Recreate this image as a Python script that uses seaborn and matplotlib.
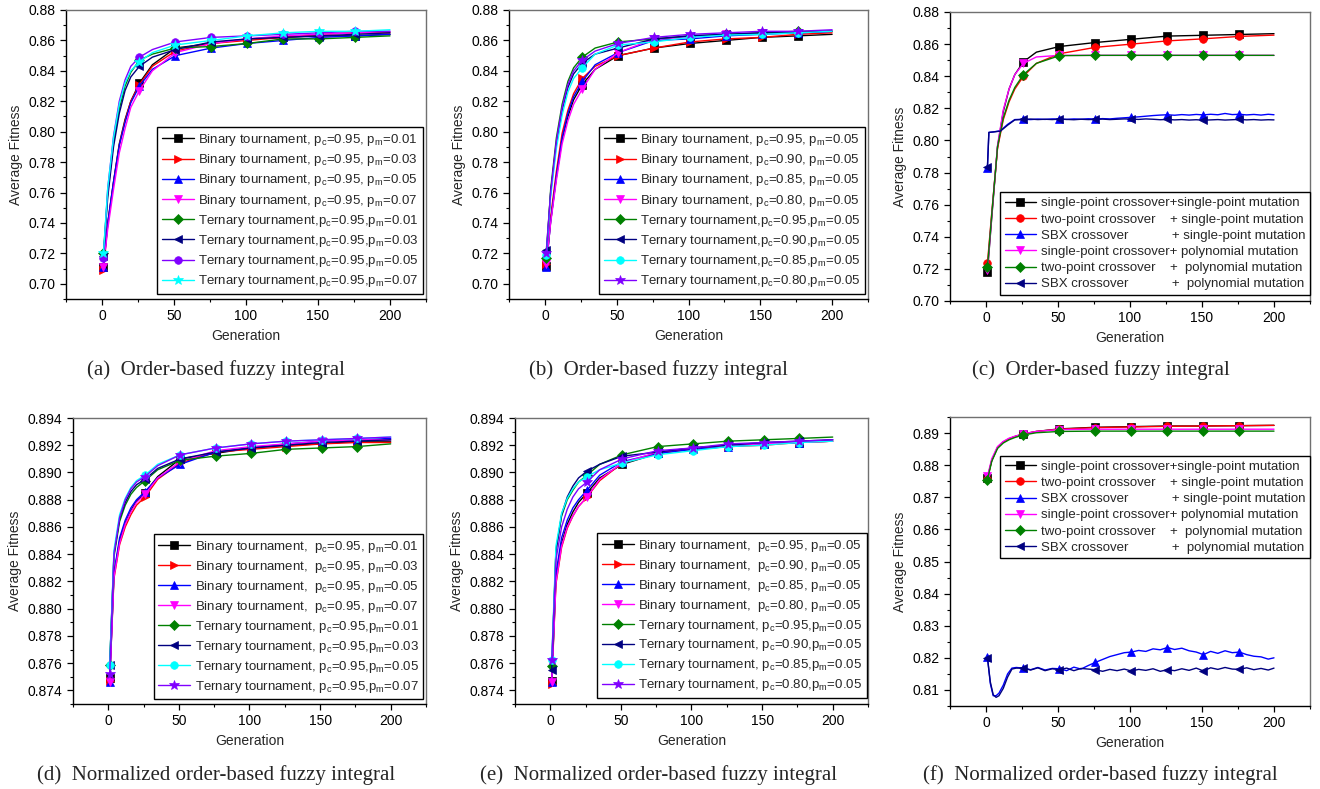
import matplotlib
matplotlib.use("Agg")
import matplotlib.pyplot as plt
from matplotlib.ticker import MultipleLocator, FormatStrFormatter
import seaborn as sns

# ---------------------------------------------------------------- data
# generations at which the smooth runs are sampled
GEN = [1, 4, 8, 12, 16, 20, 26, 35, 51, 76, 101, 126, 151, 176, 200]
# generations carrying a marker symbol
MARK_GENS = [1, 26, 51, 76, 101, 126, 151, 176]

# (a) order-based fuzzy integral, p_c fixed, p_m varied
a_bin_001 = [0.711, 0.740, 0.767, 0.792, 0.808, 0.820, 0.832, 0.844, 0.855, 0.858, 0.861, 0.862, 0.863, 0.863, 0.864]
a_bin_003 = [0.709, 0.739, 0.766, 0.791, 0.807, 0.820, 0.831, 0.843, 0.853, 0.858, 0.860, 0.862, 0.864, 0.865, 0.865]
a_bin_005 = [0.711, 0.740, 0.767, 0.791, 0.806, 0.819, 0.830, 0.841, 0.850, 0.855, 0.858, 0.860, 0.862, 0.863, 0.864]
a_bin_007 = [0.711, 0.736, 0.762, 0.786, 0.802, 0.816, 0.827, 0.840, 0.852, 0.858, 0.861, 0.863, 0.864, 0.865, 0.866]
a_ter_001 = [0.720, 0.760, 0.793, 0.815, 0.830, 0.839, 0.847, 0.851, 0.855, 0.856, 0.858, 0.861, 0.861, 0.862, 0.863]
a_ter_003 = [0.718, 0.757, 0.790, 0.812, 0.827, 0.836, 0.843, 0.849, 0.854, 0.859, 0.861, 0.862, 0.863, 0.864, 0.865]
a_ter_005 = [0.717, 0.763, 0.797, 0.820, 0.834, 0.843, 0.849, 0.854, 0.859, 0.862, 0.863, 0.864, 0.865, 0.866, 0.866]
a_ter_007 = [0.720, 0.763, 0.796, 0.818, 0.832, 0.840, 0.846, 0.852, 0.857, 0.860, 0.863, 0.865, 0.866, 0.866, 0.867]

# (b) order-based fuzzy integral, p_m fixed, p_c varied
b_bin_095 = [0.712, 0.741, 0.770, 0.795, 0.810, 0.821, 0.831, 0.841, 0.850, 0.855, 0.858, 0.860, 0.862, 0.863, 0.864]
b_bin_090 = [0.713, 0.744, 0.774, 0.799, 0.814, 0.825, 0.835, 0.843, 0.850, 0.855, 0.859, 0.861, 0.862, 0.864, 0.865]
b_bin_085 = [0.711, 0.741, 0.771, 0.796, 0.812, 0.823, 0.833, 0.844, 0.852, 0.860, 0.861, 0.863, 0.864, 0.865, 0.866]
b_bin_080 = [0.713, 0.740, 0.768, 0.792, 0.807, 0.818, 0.828, 0.841, 0.852, 0.861, 0.862, 0.864, 0.865, 0.865, 0.866]
b_ter_095 = [0.717, 0.762, 0.796, 0.818, 0.833, 0.842, 0.849, 0.855, 0.859, 0.861, 0.863, 0.864, 0.865, 0.866, 0.866]
b_ter_090 = [0.722, 0.760, 0.792, 0.814, 0.829, 0.838, 0.845, 0.851, 0.855, 0.861, 0.863, 0.864, 0.865, 0.865, 0.866]
b_ter_085 = [0.719, 0.757, 0.789, 0.811, 0.826, 0.835, 0.842, 0.851, 0.857, 0.859, 0.862, 0.8635, 0.864, 0.865, 0.866]
b_ter_080 = [0.720, 0.760, 0.794, 0.816, 0.831, 0.840, 0.847, 0.853, 0.858, 0.862, 0.864, 0.865, 0.866, 0.866, 0.867]

# (c) order-based fuzzy integral, crossover / mutation operators
c_sp_sp = [0.718, 0.752, 0.796, 0.818, 0.832, 0.841, 0.849, 0.855, 0.8585, 0.861, 0.863, 0.865, 0.8655, 0.866, 0.8665]
c_tp_sp = [0.7235, 0.755, 0.795, 0.813, 0.824, 0.832, 0.840, 0.848, 0.854, 0.858, 0.860, 0.862, 0.8633, 0.8648, 0.8656]
c_sp_poly = [0.719, 0.753, 0.797, 0.819, 0.832, 0.841, 0.848, 0.852, 0.853, 0.853, 0.853, 0.853, 0.853, 0.853, 0.853]
c_tp_poly = [0.721, 0.754, 0.796, 0.814, 0.825, 0.833, 0.841, 0.848, 0.8528, 0.853, 0.853, 0.853, 0.853, 0.853, 0.853]
C_SBX_GEN = [1, 2, 5, 10, 15, 20] + list(range(26, 197, 5)) + [200]
c_sbx_sp = [0.7830, 0.8050, 0.8053, 0.8060, 0.8100, 0.8130,
            0.8132, 0.8130, 0.8133, 0.8131, 0.8134, 0.8133, 0.8131, 0.8134, 0.8132, 0.8135,
            0.8133, 0.8136, 0.8134, 0.8138, 0.8141, 0.8144, 0.8147, 0.8151, 0.8155, 0.8158,
            0.8160, 0.8157, 0.8161, 0.8158, 0.8162, 0.8159, 0.8163, 0.8160, 0.8168, 0.8161,
            0.8163, 0.8159, 0.8162, 0.8158, 0.8163, 0.8160]
c_sbx_poly = [0.7835, 0.8050, 0.8053, 0.8058, 0.8095, 0.8128,
              0.8131, 0.8133, 0.8130, 0.8132, 0.8130, 0.8133, 0.8131, 0.8129, 0.8132, 0.8130,
              0.8131, 0.8133, 0.8130, 0.8132, 0.8134, 0.8133, 0.8131, 0.8134, 0.8132, 0.8129,
              0.8131, 0.8128, 0.8130, 0.8127, 0.8129, 0.8126, 0.8128, 0.8130, 0.8127, 0.8129,
              0.8131, 0.8128, 0.8130, 0.8127, 0.8129, 0.8128]

# (d) normalized order-based fuzzy integral, p_c fixed, p_m varied
d_bin_001 = [0.8749, 0.8825, 0.8850, 0.8863, 0.8872, 0.8879, 0.8885, 0.8897, 0.8910, 0.8914, 0.8918, 0.8920, 0.8921, 0.8923, 0.8923]
d_bin_003 = [0.8747, 0.8822, 0.8847, 0.8860, 0.8869, 0.8876, 0.8882, 0.8895, 0.8907, 0.8915, 0.8917, 0.8919, 0.8921, 0.8922, 0.8922]
d_bin_005 = [0.8746, 0.8826, 0.8852, 0.8865, 0.8874, 0.8880, 0.8886, 0.8896, 0.8906, 0.8915, 0.8918, 0.8921, 0.8923, 0.8924, 0.8925]
d_bin_007 = [0.8746, 0.8823, 0.8848, 0.8862, 0.8871, 0.8878, 0.8884, 0.8896, 0.8908, 0.8916, 0.8919, 0.8921, 0.8923, 0.8924, 0.8924]
d_ter_001 = [0.8759, 0.8838, 0.8864, 0.8876, 0.8884, 0.8889, 0.8894, 0.8902, 0.8909, 0.8912, 0.8914, 0.8917, 0.8918, 0.8919, 0.8921]
d_ter_003 = [0.8759, 0.8840, 0.8866, 0.8878, 0.8886, 0.8891, 0.8895, 0.8903, 0.8910, 0.8915, 0.8918, 0.8920, 0.8922, 0.8923, 0.8924]
d_ter_005 = [0.8759, 0.8843, 0.8869, 0.8881, 0.8889, 0.8894, 0.8898, 0.8906, 0.8913, 0.8918, 0.8921, 0.8923, 0.8924, 0.8925, 0.8926]
d_ter_007 = [0.8752, 0.8840, 0.8867, 0.8880, 0.8888, 0.8893, 0.8897, 0.8905, 0.8913, 0.8918, 0.8921, 0.8923, 0.8924, 0.8925, 0.8926]

# (e) normalized order-based fuzzy integral, p_m fixed, p_c varied
e_bin_095 = [0.8747, 0.8822, 0.8848, 0.8862, 0.8871, 0.8878, 0.8885, 0.8896, 0.8906, 0.8914, 0.8918, 0.8920, 0.8921, 0.8922, 0.8923]
e_bin_090 = [0.8745, 0.8818, 0.8845, 0.8859, 0.8868, 0.8875, 0.8882, 0.8894, 0.8907, 0.8914, 0.8917, 0.8919, 0.8920, 0.8922, 0.8923]
e_bin_085 = [0.8746, 0.8826, 0.8852, 0.8865, 0.8874, 0.8880, 0.8887, 0.8898, 0.8908, 0.8914, 0.8917, 0.8919, 0.8921, 0.8922, 0.8924]
e_bin_080 = [0.8746, 0.8819, 0.8846, 0.8860, 0.8868, 0.8875, 0.8882, 0.8895, 0.8907, 0.8915, 0.8918, 0.8920, 0.8921, 0.8922, 0.8923]
e_ter_095 = [0.8758, 0.8843, 0.8868, 0.8880, 0.8887, 0.8893, 0.8898, 0.8906, 0.8913, 0.8919, 0.8921, 0.8923, 0.8924, 0.8925, 0.8926]
e_ter_090 = [0.8755, 0.8842, 0.8869, 0.8882, 0.8890, 0.8896, 0.8901, 0.8906, 0.8912, 0.8915, 0.8918, 0.8920, 0.8922, 0.8923, 0.8924]
e_ter_085 = [0.8762, 0.8846, 0.8870, 0.8881, 0.8888, 0.8893, 0.8897, 0.8902, 0.8907, 0.8913, 0.8916, 0.8919, 0.8920, 0.8922, 0.8923]
e_ter_080 = [0.8762, 0.8836, 0.8860, 0.8873, 0.8882, 0.8888, 0.8893, 0.8902, 0.8910, 0.8916, 0.8918, 0.8921, 0.8922, 0.8923, 0.8924]

# (f) normalized order-based fuzzy integral, crossover / mutation operators
f_sp_sp = [0.8760, 0.8815, 0.8855, 0.8872, 0.8882, 0.8889, 0.8897, 0.8905, 0.8913, 0.8918, 0.8920, 0.8922, 0.8922, 0.8923, 0.8924]
f_tp_sp = [0.8758, 0.8815, 0.8855, 0.8872, 0.8882, 0.8889, 0.8897, 0.8905, 0.8912, 0.8917, 0.8919, 0.8921, 0.8922, 0.8923, 0.8924]
f_sp_poly = [0.8765, 0.8820, 0.8858, 0.8874, 0.8884, 0.8890, 0.8898, 0.8905, 0.8911, 0.8912, 0.8912, 0.8912, 0.8912, 0.8912, 0.8912]
f_tp_poly = [0.8755, 0.8812, 0.8852, 0.8869, 0.8879, 0.8886, 0.8894, 0.8901, 0.8905, 0.8906, 0.8906, 0.8906, 0.8906, 0.8906, 0.8906]
F_SBX_GEN = [1, 3, 5, 7, 9, 12, 15, 18, 21] + list(range(26, 197, 5)) + [200]
f_sbx_sp = [0.8202, 0.8120, 0.8082, 0.8082, 0.8090, 0.8115, 0.8150, 0.8168, 0.8170,
            0.8168, 0.8163, 0.8170, 0.8162, 0.8167, 0.8166, 0.8160, 0.8171, 0.8165, 0.8176,
            0.8186, 0.8195, 0.8204, 0.8210, 0.8216, 0.8218, 0.8223, 0.8220, 0.8228, 0.8225,
            0.8232, 0.8226, 0.8230, 0.8222, 0.8218, 0.8210, 0.8220, 0.8214, 0.8222, 0.8216,
            0.8218, 0.8210, 0.8205, 0.8203, 0.8196, 0.8200]
f_sbx_poly = [0.8200, 0.8125, 0.8085, 0.8077, 0.8082, 0.8105, 0.8140, 0.8165, 0.8168,
              0.8168, 0.8162, 0.8169, 0.8160, 0.8166, 0.8163, 0.8168, 0.8160, 0.8167, 0.8165,
              0.8163, 0.8158, 0.8164, 0.8160, 0.8165, 0.8159, 0.8164, 0.8161, 0.8166, 0.8158,
              0.8163, 0.8160, 0.8166, 0.8161, 0.8168, 0.8159, 0.8169, 0.8164, 0.8170, 0.8165,
              0.8164, 0.8169, 0.8163, 0.8167, 0.8162, 0.8168]

# legend labels
LAB_A = [r"Binary tournament, p$_\mathrm{c}$=0.95, p$_\mathrm{m}$=0.01",
         r"Binary tournament, p$_\mathrm{c}$=0.95, p$_\mathrm{m}$=0.03",
         r"Binary tournament, p$_\mathrm{c}$=0.95, p$_\mathrm{m}$=0.05",
         r"Binary tournament, p$_\mathrm{c}$=0.95, p$_\mathrm{m}$=0.07",
         r"Ternary tournament,p$_\mathrm{c}$=0.95,p$_\mathrm{m}$=0.01",
         r"Ternary tournament,p$_\mathrm{c}$=0.95,p$_\mathrm{m}$=0.03",
         r"Ternary tournament,p$_\mathrm{c}$=0.95,p$_\mathrm{m}$=0.05",
         r"Ternary tournament,p$_\mathrm{c}$=0.95,p$_\mathrm{m}$=0.07"]
LAB_B = [r"Binary tournament, p$_\mathrm{c}$=0.95, p$_\mathrm{m}$=0.05",
         r"Binary tournament, p$_\mathrm{c}$=0.90, p$_\mathrm{m}$=0.05",
         r"Binary tournament, p$_\mathrm{c}$=0.85, p$_\mathrm{m}$=0.05",
         r"Binary tournament, p$_\mathrm{c}$=0.80, p$_\mathrm{m}$=0.05",
         r"Ternary tournament,p$_\mathrm{c}$=0.95,p$_\mathrm{m}$=0.05",
         r"Ternary tournament,p$_\mathrm{c}$=0.90,p$_\mathrm{m}$=0.05",
         r"Ternary tournament,p$_\mathrm{c}$=0.85,p$_\mathrm{m}$=0.05",
         r"Ternary tournament,p$_\mathrm{c}$=0.80,p$_\mathrm{m}$=0.05"]
LAB_D = [r"Binary tournament,  p$_\mathrm{c}$=0.95, p$_\mathrm{m}$=0.01",
         r"Binary tournament,  p$_\mathrm{c}$=0.95, p$_\mathrm{m}$=0.03",
         r"Binary tournament,  p$_\mathrm{c}$=0.95, p$_\mathrm{m}$=0.05",
         r"Binary tournament,  p$_\mathrm{c}$=0.95, p$_\mathrm{m}$=0.07",
         r"Ternary tournament, p$_\mathrm{c}$=0.95,p$_\mathrm{m}$=0.01",
         r"Ternary tournament, p$_\mathrm{c}$=0.95,p$_\mathrm{m}$=0.03",
         r"Ternary tournament, p$_\mathrm{c}$=0.95,p$_\mathrm{m}$=0.05",
         r"Ternary tournament, p$_\mathrm{c}$=0.95,p$_\mathrm{m}$=0.07"]
LAB_E = [r"Binary tournament,  p$_\mathrm{c}$=0.95, p$_\mathrm{m}$=0.05",
         r"Binary tournament,  p$_\mathrm{c}$=0.90, p$_\mathrm{m}$=0.05",
         r"Binary tournament,  p$_\mathrm{c}$=0.85, p$_\mathrm{m}$=0.05",
         r"Binary tournament,  p$_\mathrm{c}$=0.80, p$_\mathrm{m}$=0.05",
         r"Ternary tournament, p$_\mathrm{c}$=0.95,p$_\mathrm{m}$=0.05",
         r"Ternary tournament, p$_\mathrm{c}$=0.90,p$_\mathrm{m}$=0.05",
         r"Ternary tournament, p$_\mathrm{c}$=0.85,p$_\mathrm{m}$=0.05",
         r"Ternary tournament, p$_\mathrm{c}$=0.80,p$_\mathrm{m}$=0.05"]
LAB_OPS = ["single-point crossover+single-point mutation",
           "two-point crossover    + single-point mutation",
           "SBX crossover            + single-point mutation",
           "single-point crossover+ polynomial mutation",
           "two-point crossover    +  polynomial mutation",
           "SBX crossover            +  polynomial mutation"]

CAPTIONS = ["(a)  Order-based fuzzy integral", "(b)  Order-based fuzzy integral",
            "(c)  Order-based fuzzy integral", "(d)  Normalized order-based fuzzy integral",
            "(e)  Normalized order-based fuzzy integral", "(f)  Normalized order-based fuzzy integral"]

# ---------------------------------------------------------------- style
BLACK, RED, BLUE, MAGENTA = "#000000", "#FF0000", "#0000FF", "#FF00FF"
GREEN, NAVY, VIOLET, CYAN = "#008000", "#000080", "#8000FF", "#00FFFF"

STY_A = [(BLACK, "s"), (RED, ">"), (BLUE, "^"), (MAGENTA, "v"),
         (GREEN, "D"), (NAVY, "<"), (VIOLET, "o"), (CYAN, "*")]
STY_B = [(BLACK, "s"), (RED, ">"), (BLUE, "^"), (MAGENTA, "v"),
         (GREEN, "D"), (NAVY, "<"), (CYAN, "o"), (VIOLET, "*")]
STY_OPS = [(BLACK, "s"), (RED, "o"), (BLUE, "^"), (MAGENTA, "v"),
           (GREEN, "D"), (NAVY, "<")]

sns.set_theme(style="ticks")
plt.rcParams.update({
    "font.family": ["Liberation Sans", "DejaVu Sans"],
    "mathtext.fontset": "custom",
    "mathtext.rm": "Liberation Sans",
    "mathtext.it": "Liberation Sans:italic",
    "font.size": 10,
    "axes.linewidth": 1.0,
    "xtick.direction": "out",
    "ytick.direction": "out",
    "xtick.major.size": 4,
    "ytick.major.size": 4,
    "xtick.minor.size": 2.5,
    "ytick.minor.size": 2.5,
    "xtick.major.width": 0.9,
    "ytick.major.width": 0.9,
    "xtick.minor.width": 0.8,
    "ytick.minor.width": 0.8,
    "xtick.labelsize": 10,
    "ytick.labelsize": 10,
})

W, H = 1320, 789
fig = plt.figure(figsize=(W / 100, H / 100), dpi=100)


def px_axes(left, top, right, bottom):
    return fig.add_axes([left / W, 1 - bottom / H, (right - left) / W, (bottom - top) / H])


def draw_series(ax, gens, vals, color, marker, label):
    assert len(gens) == len(vals)
    marks = [i for i, g in enumerate(gens) if g in MARK_GENS]
    ms = 7.5 if marker == "*" else 5.5
    sns.lineplot(x=gens, y=vals, ax=ax, color=color, linewidth=1.0,
                 marker=marker, markersize=ms, markevery=marks,
                 markeredgecolor=color, markerfacecolor=color,
                 markeredgewidth=0.5, label=label, sort=False,
                 estimator=None)


def finish(ax, ylim, ymaj, ymin, yfmt, legend_kw, spacing):
    ax.set_xlim(-25, 225)
    ax.set_ylim(*ylim)
    ax.xaxis.set_major_locator(MultipleLocator(50))
    ax.xaxis.set_minor_locator(MultipleLocator(25))
    ax.yaxis.set_major_locator(MultipleLocator(ymaj))
    ax.yaxis.set_minor_locator(MultipleLocator(ymin))
    ax.yaxis.set_major_formatter(FormatStrFormatter(yfmt))
    ax.set_xlabel("Generation", fontsize=10, labelpad=4)
    ax.set_ylabel("Average Fitness", fontsize=10, labelpad=4)
    for side in ("top", "right"):
        ax.spines[side].set_visible(True)
        ax.spines[side].set_color("#707070")
    for side in ("left", "bottom"):
        ax.spines[side].set_color("black")
    ax.tick_params(which="both", top=False, right=False, colors="black")
    leg = ax.legend(fontsize=9.5, frameon=True, fancybox=False, edgecolor="black",
                    framealpha=1, borderaxespad=0, handlelength=2.4,
                    handletextpad=0.35, borderpad=0.35, labelspacing=spacing,
                    **legend_kw)
    leg.get_frame().set_linewidth(1.0)


panels = [
    # (axes px box, [(gens, values)], styles, labels, ylim, maj, min, fmt, legend, spacing)
    ((66, 10, 426, 299),
     [(GEN, v) for v in (a_bin_001, a_bin_003, a_bin_005, a_bin_007,
                         a_ter_001, a_ter_003, a_ter_005, a_ter_007)],
     STY_A, LAB_A, (0.69, 0.88), 0.02, 0.01, "%.2f",
     dict(loc="lower right", bbox_to_anchor=(0.992, 0.017)), 0.32),
    ((509, 10, 868, 299),
     [(GEN, v) for v in (b_bin_095, b_bin_090, b_bin_085, b_bin_080,
                         b_ter_095, b_ter_090, b_ter_085, b_ter_080)],
     STY_B, LAB_B, (0.69, 0.88), 0.02, 0.01, "%.2f",
     dict(loc="lower right", bbox_to_anchor=(0.992, 0.017)), 0.32),
    ((950, 12, 1310, 301),
     [(GEN, c_sp_sp), (GEN, c_tp_sp), (C_SBX_GEN, c_sbx_sp),
      (GEN, c_sp_poly), (GEN, c_tp_poly), (C_SBX_GEN, c_sbx_poly)],
     STY_OPS, LAB_OPS, (0.70, 0.88), 0.02, 0.01, "%.2f",
     dict(loc="lower right", bbox_to_anchor=(1.0, 0.021)), 0.3),
    ((73, 418, 426, 704),
     [(GEN, v) for v in (d_bin_001, d_bin_003, d_bin_005, d_bin_007,
                         d_ter_001, d_ter_003, d_ter_005, d_ter_007)],
     STY_B, LAB_D, (0.873, 0.894), 0.002, 0.001, "%.3f",
     dict(loc="lower right", bbox_to_anchor=(0.992, 0.017)), 0.3),
    ((515, 418, 868, 704),
     [(GEN, v) for v in (e_bin_095, e_bin_090, e_bin_085, e_bin_080,
                         e_ter_095, e_ter_090, e_ter_085, e_ter_080)],
     STY_B, LAB_E, (0.873, 0.894), 0.002, 0.001, "%.3f",
     dict(loc="lower right", bbox_to_anchor=(0.997, 0.021)), 0.3),
    ((950, 417, 1310, 706),
     [(GEN, f_sp_sp), (GEN, f_tp_sp), (F_SBX_GEN, f_sbx_sp),
      (GEN, f_sp_poly), (GEN, f_tp_poly), (F_SBX_GEN, f_sbx_poly)],
     STY_OPS, LAB_OPS, (0.805, 0.895), 0.01, 0.005, "%.2f",
     dict(loc="upper right", bbox_to_anchor=(1.0, 0.865)), 0.3),
]

caption_pos = [(216, 370), (658, 370), (1101, 370), (216, 775), (658, 775), (1100, 775)]

for (box, series, styles, labels, ylim, ymaj, ymin, yfmt, leg_kw, sp), cap, cpos in zip(
        panels, CAPTIONS, caption_pos):
    ax = px_axes(*box)
    for (gens, vals), (col, mk), lab in zip(series, styles, labels):
        draw_series(ax, gens, vals, col, mk, lab)
    finish(ax, ylim, ymaj, ymin, yfmt, leg_kw, sp)
    fig.text(cpos[0] / W, 1 - cpos[1] / H, cap, ha="center", va="center",
             family=["Liberation Serif", "DejaVu Serif"], fontsize=15)

fig.savefig("out.png", dpi=100, facecolor="white")
